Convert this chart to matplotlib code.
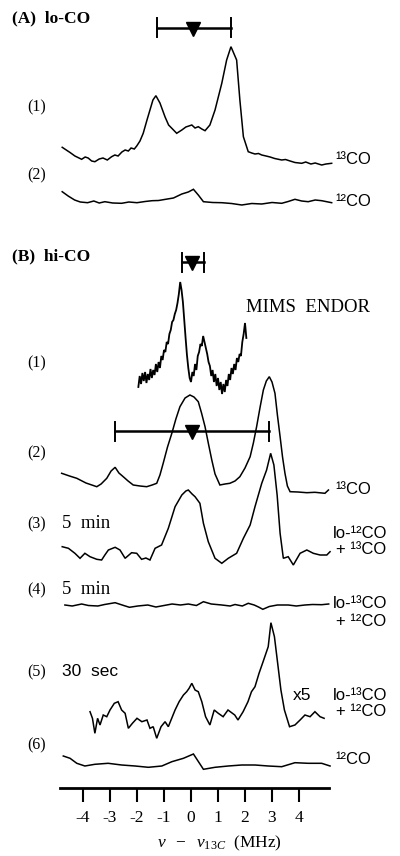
import matplotlib
matplotlib.use("Agg")
import matplotlib.pyplot as plt

plt.rcParams['axes.unicode_minus'] = False
plt.rcParams['font.family'] = ['Liberation Serif', 'DejaVu Serif']
plt.rcParams['mathtext.fontset'] = 'custom'
plt.rcParams['mathtext.rm'] = 'Liberation Serif'
plt.rcParams['mathtext.it'] = 'Liberation Serif:italic'

# ---- data: frequency (MHz) and ENDOR intensity (arb.) ----
# (A) lo-CO
a1_x = [-4.77, -4.62, -4.48, -4.30, -4.05, -3.92, -3.81, -3.68, -3.56, -3.40, -3.26, -3.10, -2.94,
        -2.82, -2.70, -2.56, -2.44, -2.32, -2.22, -2.10, -2.01, -1.89, -1.77, -1.63, -1.52, -1.41,
        -1.30, -1.15, -0.96, -0.83, -0.71, -0.53, -0.34, -0.19, 0.03, 0.15, 0.27, 0.40, 0.52, 0.70,
        0.89, 1.14, 1.32, 1.48, 1.69, 1.81, 1.94, 2.12, 2.25, 2.37, 2.50, 2.62, 2.78, 2.93, 3.10,
        3.36, 3.50, 3.67, 3.85, 4.10, 4.25, 4.44, 4.60, 4.84, 5.00, 5.21]
a1_y = [17.7, 15.0, 12.5, 9.0, 5.7, 8.0, 7.0, 4.0, 3.3, 6.0, 7.0, 5.0, 8.3,
        10.0, 9.0, 13.0, 15.0, 14.0, 17.0, 16.0, 19.0, 24.0, 31.7, 45.0, 55.0, 65.0,
        69.3, 62.0, 48.0, 40.0, 36.7, 31.7, 35.0, 38.0, 40.0, 37.0, 38.3, 36.0, 34.3, 40.0,
        55.0, 81.7, 105.0, 118.3, 105.0, 65.0, 28.3, 13.3, 12.0, 11.0, 11.5, 10.0, 9.0, 8.0, 6.5,
        5.0, 5.5, 4.0, 2.5, 1.7, 3.0, 1.0, 2.0, 0.0, 1.0, 1.7]
a2_x = [-4.77, -4.55, -4.31, -4.10, -3.83, -3.60, -3.40, -3.19, -2.90, -2.57, -2.30, -2.00, -1.70,
        -1.44, -1.20, -0.94, -0.65, -0.34, -0.10, 0.09, 0.27, 0.46, 0.80, 1.14, 1.50, 1.88, 2.25,
        2.62, 3.00, 3.36, 3.60, 3.85, 4.10, 4.34, 4.60, 4.84, 5.21]
a2_y = [13.3, 9.0, 5.0, 3.0, 2.3, 4.0, 2.0, 3.3, 2.0, 1.7, 3.0, 2.3, 3.5,
        4.3, 4.5, 5.7, 7.0, 11.0, 13.0, 15.7, 10.0, 3.3, 2.5, 2.3, 1.5, 0.0, 1.5,
        1.0, 2.5, 1.7, 3.5, 5.7, 4.0, 3.3, 5.0, 4.3, 2.3]

# (B) hi-CO, (1) Mims ENDOR
b1_x = [-1.95, -1.90, -1.85, -1.80, -1.75, -1.70, -1.65, -1.60, -1.55, -1.50, -1.45, -1.40, -1.35,
        -1.30, -1.25, -1.20, -1.15, -1.10, -1.05, -1.00, -0.95, -0.90, -0.85, -0.80, -0.75, -0.70,
        -0.65, -0.60, -0.55, -0.50, -0.45, -0.40, -0.35, -0.30, -0.25, -0.20, -0.15, -0.10, -0.05,
        0.00, 0.05, 0.10, 0.15, 0.20, 0.25, 0.30, 0.35, 0.40, 0.45, 0.50, 0.55, 0.60, 0.65, 0.70,
        0.75, 0.80, 0.85, 0.90, 0.95, 1.00, 1.05, 1.10, 1.15, 1.20, 1.25, 1.30, 1.35, 1.40, 1.45,
        1.50, 1.55, 1.60, 1.65, 1.70, 1.75, 1.80, 1.85, 1.90, 1.95, 2.00, 2.05]
b1_y = [13, 24, 16, 27, 19, 28, 17, 26, 20, 31, 22, 30, 25,
        36, 28, 38, 32, 44, 40, 50, 48, 58, 56, 66, 70, 78,
        80, 86, 90, 97, 106, 118, 110, 98, 80, 62, 45, 32, 22,
        18, 28, 24, 36, 30, 44, 48, 56, 54, 64, 58, 52, 46, 38, 34,
        24, 30, 18, 26, 14, 22, 10, 18, 6, 16, 8, 20, 14, 26, 20,
        32, 26, 36, 30, 42, 38, 46, 44, 58, 66, 77, 62]

# (2) 13CO
b2_x = [-4.79, -4.50, -4.23, -3.89, -3.49, -3.33, -3.12, -2.96, -2.81, -2.67, -2.51, -2.33, -2.14,
        -1.89, -1.64, -1.44, -1.27, -1.15, -1.03, -0.87, -0.71, -0.56, -0.41, -0.22, -0.04, 0.11,
        0.27, 0.39, 0.52, 0.64, 0.77, 0.89, 1.07, 1.26, 1.44, 1.63, 1.81, 2.00, 2.19, 2.31, 2.43,
        2.56, 2.68, 2.79, 2.90, 3.00, 3.11, 3.20, 3.30, 3.39, 3.48, 3.57, 3.67, 3.96, 4.29, 4.59,
        4.96, 5.09]
b2_y = [21.7, 19.0, 16.7, 12.0, 8.3, 11.0, 16.7, 24.0, 27.7, 22.0, 18.3, 14.0, 10.0,
        9.0, 8.3, 10.0, 11.7, 20.0, 31.7, 48.0, 61.7, 76.0, 88.3, 97.0, 100.0, 98.0,
        93.3, 82.0, 68.3, 52.0, 35.0, 21.0, 10.0, 11.0, 11.7, 14.0, 18.3, 27.0, 38.3, 52.0, 68.3,
        88.0, 105.0, 114.0, 118.3, 113.0, 101.7, 80.0, 58.3, 38.0, 21.7, 9.0, 3.3, 3.0, 2.3, 2.7,
        1.7, 5.0]

# (3) 5 min, lo-12CO + 13CO
b3_x = [-4.77, -4.54, -4.30, -4.11, -3.93, -3.74, -3.49, -3.31, -3.19, -3.06, -2.81, -2.63, -2.44,
        -2.20, -2.01, -1.83, -1.67, -1.52, -1.33, -1.09, -0.84, -0.59, -0.34, -0.19, -0.10, 0.04,
        0.15, 0.33, 0.46, 0.64, 0.89, 1.14, 1.38, 1.69, 1.94, 2.19, 2.37, 2.62, 2.80, 2.95, 3.07,
        3.19, 3.30, 3.42, 3.60, 3.79, 4.04, 4.29, 4.53, 4.78, 5.03, 5.15]
b3_y = [18.3, 16.7, 11.7, 6.7, 11.7, 8.3, 5.7, 5.0, 10.0, 15.0, 17.7, 15.0, 6.7,
        12.3, 11.7, 5.7, 7.0, 5.0, 16.7, 20.0, 36.7, 58.3, 70.0, 74.0, 75.0, 71.0,
        68.3, 61.7, 41.7, 23.3, 6.7, 1.7, 6.7, 11.7, 26.7, 40.0, 58.3, 81.7, 95.0, 111.7, 100.0,
        70.0, 31.7, 6.7, 8.3, 0.0, 11.7, 15.0, 11.7, 10.0, 10.0, 13.3]

# (4) 5 min, lo-13CO + 12CO
b4_x = [-4.67, -4.40, -4.05, -3.80, -3.45, -3.20, -2.81, -2.55, -2.28, -1.97, -1.60, -1.30, -1.00,
        -0.70, -0.39, -0.10, 0.20, 0.46, 0.75, 1.14, 1.45, 1.63, 1.90, 2.12, 2.34, 2.50, 2.66, 2.90,
        3.20, 3.60, 3.90, 4.22, 4.50, 4.84, 5.10]
b4_y = [5.0, 4.0, 6.0, 4.5, 4.0, 5.5, 7.3, 5.0, 2.7, 4.0, 5.0, 3.0, 4.5,
        6.0, 5.0, 6.0, 4.5, 8.3, 6.0, 5.0, 4.0, 5.5, 4.0, 6.7, 5.0, 3.0, 0.7, 3.5,
        5.0, 5.0, 4.0, 5.0, 5.5, 5.3, 6.0]

# (5) 30 sec, lo-13CO + 12CO (x5)
b5_x = [-3.74, -3.65, -3.56, -3.46, -3.37, -3.25, -3.12, -3.00, -2.84, -2.70, -2.57, -2.44, -2.32,
        -2.17, -2.00, -1.82, -1.63, -1.52, -1.40, -1.27, -1.11, -0.96, -0.84, -0.59, -0.44, -0.28,
        -0.16, -0.07, 0.03, 0.15, 0.27, 0.40, 0.54, 0.70, 0.86, 1.01, 1.19, 1.37, 1.62, 1.74, 1.93,
        2.11, 2.24, 2.37, 2.52, 2.67, 2.86, 2.96, 3.09, 3.21, 3.33, 3.46, 3.65, 3.85, 4.04, 4.22,
        4.41, 4.59, 4.78, 4.93]
b5_y = [28.3, 21.7, 6.7, 21.7, 15.0, 25.0, 23.3, 30.0, 36.7, 38.3, 30.0, 26.7, 11.7,
        16.7, 21.7, 18.3, 20.0, 11.7, 13.3, 1.7, 13.3, 18.3, 13.3, 30.0, 38.3, 45.0,
        48.3, 51.7, 56.7, 50.0, 48.3, 38.3, 23.3, 15.0, 30.0, 26.7, 23.3, 30.0, 25.0, 20.0, 28.3,
        38.3, 48.3, 53.3, 66.7, 78.3, 93.3, 117.3, 103.3, 76.7, 50.0, 30.0, 13.3, 15.0, 20.0, 25.0,
        23.3, 28.3, 23.3, 21.7]

# (6) 12CO
b6_x = [-4.73, -4.48, -4.23, -3.93, -3.56, -3.07, -2.57, -2.07, -1.58, -1.08, -0.71, -0.28,
        0.09, 0.46, 0.89, 1.38, 1.88, 2.37, 2.86, 3.36, 3.85, 4.34, 4.84, 5.15]
b6_y = [14.0, 11.7, 6.7, 4.0, 5.7, 6.7, 5.0, 4.0, 2.7, 4.0, 8.3, 11.7,
        16.0, 0.7, 2.7, 4.0, 5.0, 5.0, 4.0, 3.3, 7.3, 6.7, 6.7, 4.0]

# hyperfine ranges shown as bars above the spectra: (low, centre, high) in MHz
bar_a = (-1.27, 0.08, 1.48)
bar_b1 = (-0.35, 0.05, 0.48)
bar_b2 = (-2.81, 0.03, 2.89)

ticks = [-4, -3, -2, -1, 0, 1, 2, 3, 4]

# ---- layout (figure is drawn in a pixel-like y scale, top = 0) ----
W, H = 400, 856
fig = plt.figure(figsize=(W / 100, H / 100), dpi=100)
ax = fig.add_axes([0, 0, 1, 1])
ax.set_xlim((0 - 191) / 27, (W - 191) / 27)
ax.set_ylim(H, 0)

traces = [(a1_x, a1_y, 165), (a2_x, a2_y, 205), (b1_x, b1_y, 400), (b2_x, b2_y, 495),
          (b3_x, b3_y, 565), (b4_x, b4_y, 610), (b5_x, b5_y, 740), (b6_x, b6_y, 770)]
for xs, ys, base in traces:
    lw = 1.3 if xs is b1_x else 1.1
    ax.plot(xs, [base - v for v in ys], color='black', lw=lw, solid_joinstyle='miter')

# bars with triangle marking centre
for (lo, mid, hi), y, cap in [(bar_a, 27.5, 9.5), (bar_b1, 262, 9.5), (bar_b2, 431, 9.5)]:
    ax.plot([lo, hi], [y, y], color='black', lw=1.8)
    ax.plot([lo, lo], [y - cap, y + cap], color='black', lw=1.4)
    ax.plot([hi, hi], [y - cap, y + cap], color='black', lw=1.4)
    ax.plot([mid], [y + 1], marker='v', color='black', markersize=10)

# x axis
for s in ['left', 'right', 'top']:
    ax.spines[s].set_visible(False)
ax.spines['bottom'].set_position(('data', 788))
ax.spines['bottom'].set_bounds(-4.85, 5.1)
ax.spines['bottom'].set_linewidth(2)
ax.set_yticks([])
ax.set_xticks(ticks)
ax.set_xticklabels([str(t) for t in ticks])
ax.tick_params(axis='x', direction='out', length=10, width=1.5, pad=6, labelsize=12.5)
ax.set_facecolor('none')


def put(x, y, s, **kw):
    fig.text(x / W, 1 - y / H, s, va='center', **kw)


sans = ['Liberation Sans', 'DejaVu Sans']
put(12, 18, '(A)  lo-CO', fontsize=12.5, fontweight='bold')
put(12, 256, '(B)  hi-CO', fontsize=12.5, fontweight='bold')
for lbl, y in [('(1)', 107), ('(2)', 175), ('(1)', 363), ('(2)', 453), ('(3)', 524),
               ('(4)', 590), ('(5)', 672), ('(6)', 745)]:
    put(27, y, lbl, fontsize=11.5)
put(62, 524, '5  min', fontsize=13.5)
put(62, 590, '5  min', fontsize=13.5)
put(62, 672, '30  sec', fontsize=12.5, family=sans)
put(246, 307, 'MIMS  ENDOR', fontsize=13.5)
put(293, 695, 'x5', fontsize=12.5, family=sans)

put(335, 159, '¹³CO', fontsize=12, family=sans)
put(335, 201, '¹²CO', fontsize=12, family=sans)
put(335, 490, '¹³CO', fontsize=12, family=sans)
put(333, 533, 'lo-¹²CO', fontsize=12, family=sans)
put(336, 550, '+ ¹³CO', fontsize=12, family=sans)
put(333, 603, 'lo-¹³CO', fontsize=12, family=sans)
put(336, 621, '+ ¹²CO', fontsize=12, family=sans)
put(333, 695, 'lo-¹³CO', fontsize=12, family=sans)
put(336, 712, '+ ¹²CO', fontsize=12, family=sans)
put(335, 759, '¹²CO', fontsize=12, family=sans)

put(219, 843, r'$\nu\ \ -\ \ \nu_{13C}$  (MHz)', fontsize=12.5, ha='center')

fig.savefig('out.png', dpi=100)
